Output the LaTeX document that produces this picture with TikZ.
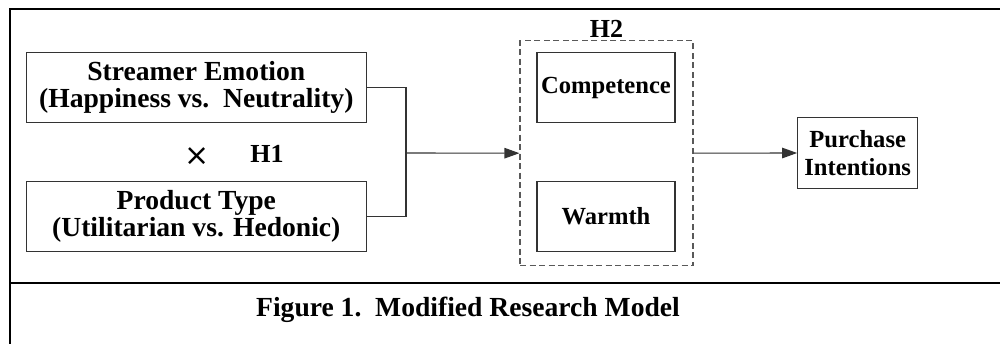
\documentclass[tikz,border=0pt]{standalone}
\usepackage{fontspec}
\setmainfont{Liberation Serif}
\newfontfamily\symfont{DejaVu Sans}
\usetikzlibrary{arrows.meta}
\tikzset{
  box/.style={draw=black!80, line width=1.1pt, minimum width=340pt, minimum height=70pt,
    align=center, inner sep=0pt, font=\fontsize{27.6}{27.8}\selectfont\bfseries},
  smallbox/.style={box, minimum width=138pt, font=\fontsize{24.6}{27.8}\selectfont\bfseries},
  frame/.style={line width=2.6pt, black},
  link/.style={draw=black!80, line width=1.1pt},
  arrow/.style={link, -{Triangle[length=15pt,width=10.5pt]}},
  label/.style={font=\fontsize{26}{27.5}\selectfont\bfseries, inner sep=0pt},
}
\begin{document}
\begin{tikzpicture}[x=1pt,y=-1pt]
  \useasboundingbox (0,0) rectangle (1000,344);
  % outer frame and caption separator
  \draw[frame] (10,344) -- (10,9) -- (1000,9);
  \draw[frame] (10,283) -- (1000,283);
  % independent variables
  \node[box] (emotion) at (196.3,87.5) {Streamer Emotion\\(Happiness vs.\ \ Neutrality)};
  \node[box] (ptype) at (196.3,216.4) {Product Type\\(Utilitarian vs. Hedonic)};
  \node[inner sep=0pt, font=\symfont\fontsize{30}{30}\selectfont] (times) at (197,157) {×};
  \node[label] (h1) at (267,154) {H1};
  % mediators
  \node[draw=black!65, dash pattern=on 6pt off 3.5pt, line width=1.1pt,
        minimum width=173pt, minimum height=225pt, inner sep=0pt] (med) at (606.5,153.2) {};
  \node[label] (h2) at (606.5,29) {H2};
  \node[smallbox] (comp) at (606,87.5) {Competence};
  \node[smallbox] (warm) at (606,216.3) {Warmth};
  % outcome
  \node[box, minimum width=120pt, minimum height=70.6pt,
        font=\fontsize{24.6}{27.8}\selectfont\bfseries] (pi) at (857.7,153) {Purchase\\Intentions};
  % connectors
  \coordinate (join) at (406,153);
  \draw[link] (emotion.east) -| (join);
  \draw[link] (ptype.east) -| (join);
  \draw[arrow] (join) -- (med.west);
  \draw[arrow] (med.east) -- (pi.west);
  % caption
  \node[font=\fontsize{27.6}{28}\selectfont\bfseries, inner sep=0pt] (caption) at (468,310)
    {Figure 1.\ \ Modified Research Model};
\end{tikzpicture}
\end{document}
